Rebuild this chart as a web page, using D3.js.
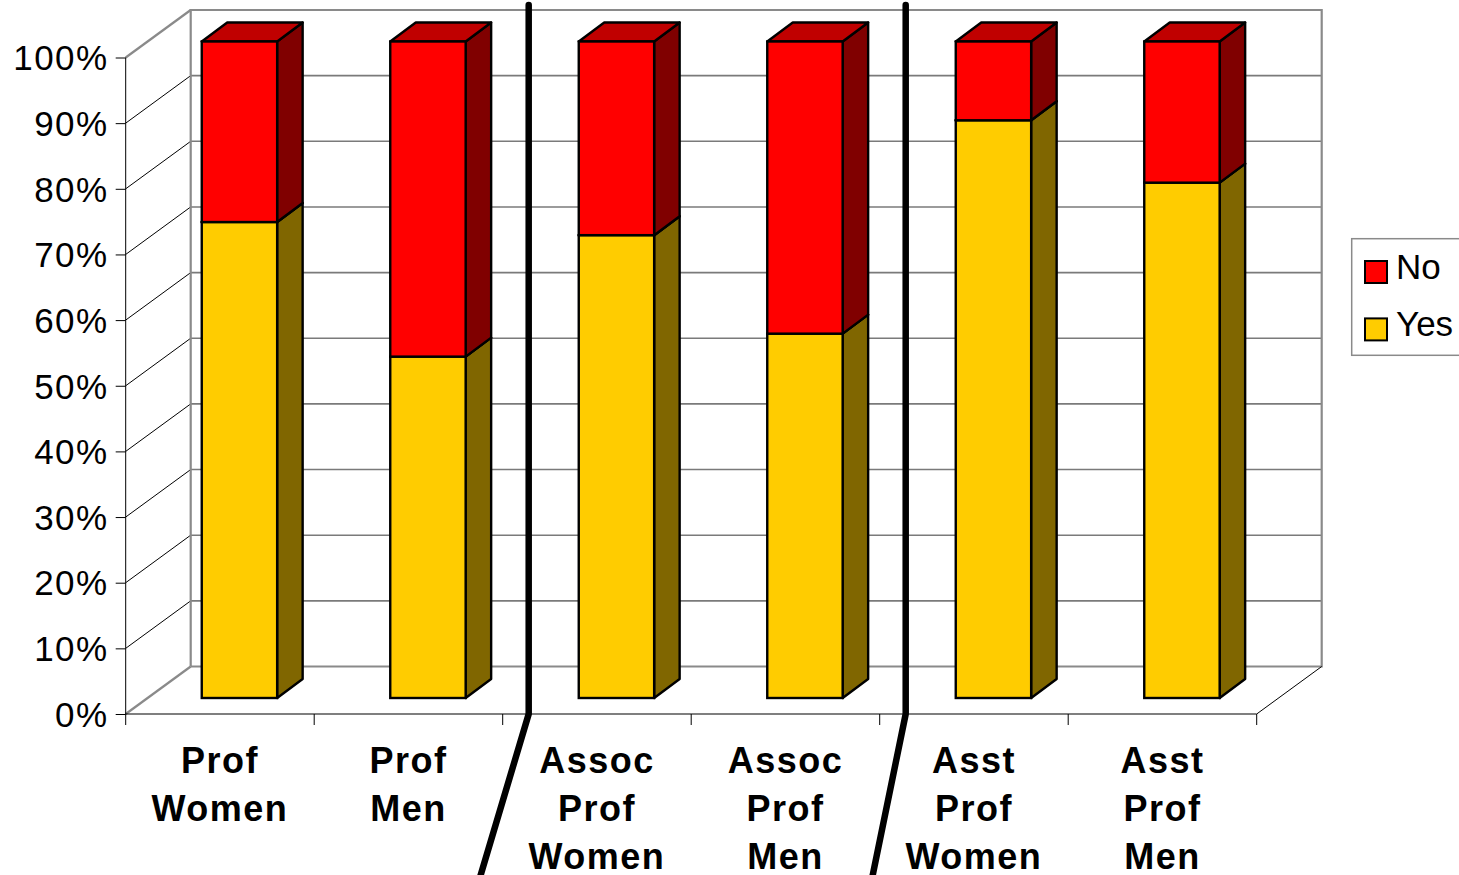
<!DOCTYPE html>
<html>
<head>
<meta charset="utf-8">
<script src="https://cdn.jsdelivr.net/npm/d3@7"></script>
<style>
  html, body { margin: 0; padding: 0; background: #fff; }
  svg { display: block; font-family: "Liberation Sans", Arial, sans-serif; }
</style>
</head>
<body>
<svg id="chart" width="1459" height="875"></svg>
<script>
// Share of "Yes" / "No" answers by rank and gender (percent)
const categories = ["Prof Women", "Prof Men", "Assoc Prof Women", "Assoc Prof Men", "Asst Prof Women", "Asst Prof Men"];
const yesValues = [72.5, 52, 70.5, 55.5, 88, 78.5];
const noValues = [27.5, 48, 29.5, 44.5, 12, 21.5];
const seriesKeys = ["Yes", "No"];
const legendOrder = ["No", "Yes"];
const yTickValues = [0, 10, 20, 30, 40, 50, 60, 70, 80, 90, 100];
const yTickLabels = ["0%", "10%", "20%", "30%", "40%", "50%", "60%", "70%", "80%", "90%", "100%"];
// rank groups are separated after these category indexes
const groupBreaks = [1, 3];
const breakLean = [-51, -35];

const colors = {
  Yes: { front: "#FFCC00", side: "#806600", top: "#BF9900" },
  No:  { front: "#FF0000", side: "#800000", top: "#C00000" }
};

const svg = d3.select("#chart");
const W = 1459, H = 875;
svg.append("rect").attr("width", W).attr("height", H).attr("fill", "#fff");

// front plane of the 3D box
const x0 = 125.7, x1 = 1256.7, yBase = 714, yTop = 57.5;
// depth of the box (projection offsets)
const DX = 65, DY = 47.5;
// bar depth position (front face / back face offsets)
const FDX = 19.5, FDY = 16, BDX = 45, BDY = 35;

const xCat = d3.scaleBand().domain(categories).range([x0, x1]).paddingInner(0).paddingOuter(0);
const xBar = d3.scaleBand().domain(categories).range([x0, x1]).paddingInner(0.6).paddingOuter(0.3);
const y = d3.scaleLinear().domain([0, 100]).range([yBase, yTop]);

const wallGray = "#8a8a8a";

// ---- back wall and side wall ----
const walls = svg.append("g");
// back wall gridlines
walls.selectAll("line.grid").data(yTickValues.filter(v => v > 0 && v < 100)).join("line")
  .attr("class", "grid")
  .attr("x1", x0 + DX).attr("x2", x1 + DX)
  .attr("y1", d => y(d) - DY).attr("y2", d => y(d) - DY)
  .attr("stroke", "#7a7a7a").attr("stroke-width", 1.6);
// side wall diagonals
walls.selectAll("line.diag").data(yTickValues).join("line")
  .attr("class", "diag")
  .attr("x1", x0).attr("y1", d => y(d))
  .attr("x2", x0 + DX).attr("y2", d => y(d) - DY)
  .attr("stroke", d => (d === 0 || d === 100) ? wallGray : "#000")
  .attr("stroke-width", d => (d === 0 || d === 100) ? 2.2 : 1);
// wall outline
walls.append("path")
  .attr("d", `M${x0 + DX},${y(0) - DY}V${y(100) - DY}H${x1 + DX}V${y(0) - DY}H${x0 + DX}`)
  .attr("fill", "none").attr("stroke", wallGray).attr("stroke-width", 2.2);
// floor right edge
walls.append("line")
  .attr("x1", x1).attr("y1", y(0)).attr("x2", x1 + DX).attr("y2", y(0) - DY)
  .attr("stroke", "#000").attr("stroke-width", 1);

// ---- bars ----
const table = categories.map((c, i) => ({ category: c, Yes: yesValues[i], No: noValues[i] }));
const stacked = d3.stack().keys(seriesKeys)(table);

const barsG = svg.append("g");
categories.forEach((cat, i) => {
  const g = barsG.append("g");
  const xl = xBar(cat), xr = xBar(cat) + xBar.bandwidth();
  stacked.forEach(layer => {
    const key = layer.key;
    const [v0, v1] = layer[i];
    const c = colors[key];
    // side face
    g.append("path")
      .attr("d", `M${xr + FDX},${y(v0) - FDY}L${xr + BDX},${y(v0) - BDY}L${xr + BDX},${y(v1) - BDY}L${xr + FDX},${y(v1) - FDY}Z`)
      .attr("fill", c.side).attr("stroke", "#000").attr("stroke-width", 2.4).attr("stroke-linejoin", "round");
    // top face
    g.append("path")
      .attr("d", `M${xl + FDX},${y(v1) - FDY}L${xr + FDX},${y(v1) - FDY}L${xr + BDX},${y(v1) - BDY}L${xl + BDX},${y(v1) - BDY}Z`)
      .attr("fill", c.top).attr("stroke", "#000").attr("stroke-width", 2.4).attr("stroke-linejoin", "round");
    // front face
    g.append("rect")
      .attr("x", xl + FDX).attr("y", y(v1) - FDY)
      .attr("width", xBar.bandwidth()).attr("height", y(v0) - y(v1))
      .attr("fill", c.front).attr("stroke", "#000").attr("stroke-width", 2.4);
  });
});

// ---- value axis ----
const yAxisG = svg.append("g").attr("transform", `translate(${x0},0)`);
yAxisG.call(d3.axisLeft(y).tickValues(yTickValues).tickSize(10).tickPadding(7)
  .tickFormat((d, i) => yTickLabels[i]));
yAxisG.select(".domain").remove();
yAxisG.selectAll(".tick line").attr("stroke", "#000").attr("stroke-width", 1);
yAxisG.selectAll(".tick text")
  .attr("font-size", 35).attr("fill", "#000")
  .attr("font-family", "'Liberation Sans', Arial, sans-serif")
  .attr("letter-spacing", "1.5px")
  .attr("dy", "0.35em");
svg.append("line")
  .attr("x1", x0).attr("x2", x0).attr("y1", y(100)).attr("y2", yBase + 11)
  .attr("stroke", "#000").attr("stroke-width", 1);

// ---- category axis ----
svg.append("line")
  .attr("x1", x0).attr("x2", x1).attr("y1", yBase).attr("y2", yBase)
  .attr("stroke", "#000").attr("stroke-width", 1.2);
const boundaries = categories.map(c => xCat(c) + xCat.bandwidth());
svg.selectAll("line.ctick").data(boundaries).join("line")
  .attr("class", "ctick")
  .attr("x1", d => d).attr("x2", d => d)
  .attr("y1", yBase).attr("y2", yBase + 11)
  .attr("stroke", "#000").attr("stroke-width", 1);

const labels = svg.append("g");
categories.forEach(cat => {
  const t = labels.append("text")
    .attr("x", xCat(cat) + xCat.bandwidth() / 2)
    .attr("y", 773)
    .attr("text-anchor", "middle")
    .attr("font-size", 36).attr("font-weight", "bold")
    .attr("letter-spacing", "1.5px")
    .attr("fill", "#000");
  cat.split(" ").forEach((word, k) => {
    t.append("tspan")
      .attr("x", xCat(cat) + xCat.bandwidth() / 2)
      .attr("y", 773 + k * 48)
      .text(word);
  });
});

// ---- group separators ----
groupBreaks.forEach((idx, k) => {
  const bx = xCat(categories[idx]) + xCat.bandwidth() + 26;
  svg.append("path")
    .attr("d", `M${bx},5V${yBase}L${bx + breakLean[k]},${H + 10}`)
    .attr("fill", "none").attr("stroke", "#000").attr("stroke-width", 6.5)
    .attr("stroke-linecap", "round").attr("stroke-linejoin", "round");
});

// ---- legend ----
const legend = svg.append("g");
legend.append("rect")
  .attr("x", 1351.7).attr("y", 238.7).attr("width", 130).attr("height", 116.6)
  .attr("fill", "#fff").attr("stroke", wallGray).attr("stroke-width", 1.5);
legendOrder.forEach((key, k) => {
  legend.append("rect")
    .attr("x", 1365).attr("y", 261 + k * 57.4)
    .attr("width", 22).attr("height", 22)
    .attr("fill", colors[key].front).attr("stroke", "#000").attr("stroke-width", 2);
  legend.append("text")
    .attr("x", 1396).attr("y", 279 + k * 57.4)
    .attr("font-size", 35).attr("fill", "#000")
    .text(key);
});
</script>
</body>
</html>
